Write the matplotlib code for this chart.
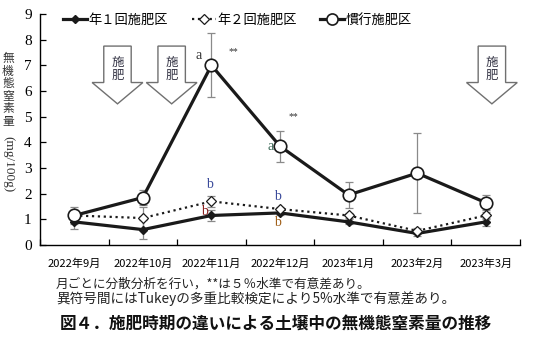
import numpy as np
import matplotlib
matplotlib.use('Agg')
import matplotlib.pyplot as plt
from matplotlib.patches import Polygon
from matplotlib.lines import Line2D

# データ
months = ['2022年9月', '2022年10月', '2022年11月', '2022年12月',
          '2023年1月', '2023年2月', '2023年3月']
once = [0.9, 0.6, 1.15, 1.25, 0.9, 0.45, 0.9]
once_err = [0.28, 0.38, 0.22, 0.1, 0.1, 0.1, 0.15]
twice = [1.15, 1.05, 1.7, 1.4, 1.15, 0.55, 1.15]
twice_err = [0.2, 0.42, 0.2, 0.1, 0.1, 0.1, 0.15]
conv = [1.15, 1.85, 7.0, 3.85, 1.95, 2.8, 1.65]
conv_err = [0.32, 0.3, 1.25, 0.6, 0.5, 1.55, 0.3]
series_names = ['年１回施肥区', '年２回施肥区', '慣行施肥区']
fert_x = [0.63, 1.42, 6.09]   # 施肥矢印の位置

JP = ['Noto Sans CJK JP', 'DejaVu Sans']
SERIF = ['Liberation Serif', 'DejaVu Serif']
plt.rcParams['font.family'] = JP

W, H = 534, 339
fig = plt.figure(figsize=(W / 100, H / 100), dpi=100)
ax = fig.add_axes([40 / W, 1 - 245 / H, 480 / W, 231 / H])

x = np.arange(len(months))
ebkw = dict(ecolor='#8a8a8a', elinewidth=0.9, capsize=3, capthick=0.9, ls='none', zorder=2)
ax.errorbar(x, conv, yerr=conv_err, **ebkw)
ax.errorbar(x, twice, yerr=twice_err, **ebkw)
ax.errorbar(x, once, yerr=once_err, **ebkw)

ax.plot(x, once, '-D', color='#1a1a1a', lw=2.3, ms=4.5, mfc='#1a1a1a', zorder=4)
ax.plot(x, twice, ':D', color='#1a1a1a', lw=1.6, ms=5.5, mfc='white', mew=0.9, zorder=4)
ax.plot(x, conv, '-o', color='#1a1a1a', lw=2.3, ms=9, mfc='white', mew=1.2, zorder=5)

# 有意差表示
ax.text(2 - 0.18, 7.4, 'a', ha='center', va='center', fontsize=10, family=SERIF, color='#333333')
ax.text(2 + 0.32, 7.55, '**', ha='center', va='center', fontsize=7, family=SERIF, color='#333333')
ax.text(3 - 0.13, 3.85, 'a', ha='center', va='center', fontsize=10, family=SERIF, color='#3c6a58')
ax.text(3 + 0.2, 5.0, '**', ha='center', va='center', fontsize=7, family=SERIF, color='#333333')
ax.text(2 - 0.03, 2.34, 'b', ha='center', va='center', fontsize=10, family=SERIF, color='#3a4a9a')
ax.text(2 - 0.1, 1.3, 'b', ha='center', va='center', fontsize=10, family=SERIF, color='#8b2020')
ax.text(3 - 0.03, 1.88, 'b', ha='center', va='center', fontsize=10, family=SERIF, color='#3a4a9a')
ax.text(3 - 0.03, 0.86, 'b', ha='center', va='center', fontsize=10, family=SERIF, color='#a0601a')

# 施肥矢印
for fx in fert_x:
    sw, hw = 0.2, 0.37
    top, sb, tip = 7.75, 6.33, 5.5
    pts = [(fx - sw, top), (fx + sw, top), (fx + sw, sb), (fx + hw, sb),
           (fx, tip), (fx - hw, sb), (fx - sw, sb)]
    ax.add_patch(Polygon(pts, closed=True, fc='white', ec='#707070', lw=1.0, zorder=3))
    for k, ch in enumerate('施肥'):
        ax.text(fx, 7.1 - 0.48 * k, ch, ha='center', va='center', fontsize=9,
                color='#333344', zorder=4)

ax.set_xlim(-0.5, 6.5)
ax.set_ylim(0, 9)
ax.set_yticks(range(10))
ax.set_yticklabels([str(v) for v in range(10)], family=SERIF, fontsize=11)
ax.set_xticks(x)
ax.set_xticklabels(months, fontsize=8)
ax.set_xticks(np.arange(-0.5, 7, 1), minor=True)
ax.tick_params(axis='x', which='major', length=0, pad=10)
ax.tick_params(axis='x', which='minor', direction='in', length=4, width=0.9)
ax.tick_params(axis='y', direction='in', length=4, width=0.9, pad=6)
for s in ['top', 'right']:
    ax.spines[s].set_visible(False)
for s in ['left', 'bottom']:
    ax.spines[s].set_linewidth(1.0)

# 凡例（項目ごとに配置）
handles = [
    Line2D([], [], ls='-', marker='D', color='#1a1a1a', lw=2.3, ms=4.5),
    Line2D([], [], ls=':', marker='D', color='#1a1a1a', lw=1.6, ms=5.5, mfc='white', mew=0.9),
    Line2D([], [], ls='-', marker='o', color='#1a1a1a', lw=2.3, ms=8, mfc='white', mew=1.2),
]
leg_x = [63, 192, 320]
for h, name, lx in zip(handles, series_names, leg_x):
    fig.legend([h], [name], loc='center left', bbox_to_anchor=(lx / W, 1 - 20 / H),
               frameon=False, fontsize=9.5, handlelength=1.8, handletextpad=0.15,
               borderaxespad=0, borderpad=0)

# 縦軸ラベル
for k, ch in enumerate('無機態窒素量'):
    fig.text(8 / W, 1 - (59 + 12.4 * k) / H, ch, ha='center', va='center',
             fontsize=8.5, color='#333333')
fig.text(8 / W, 1 - 164 / H, '(mg/100g)', ha='center', va='center', rotation=-90,
         fontsize=9.5, family=SERIF, color='#333333')

# 注記・表題
fig.text(56 / W, 1 - 284 / H, '月ごとに分散分析を行い，**は５％水準で有意差あり。',
         ha='left', va='center', fontsize=9.1, color='#222222')
fig.text(56 / W, 1 - 299 / H, '異符号間にはTukeyの多重比較検定により5%水準で有意差あり。',
         ha='left', va='center', fontsize=9.8, color='#222222')
fig.text(60 / W, 1 - 325 / H, '図４．施肥時期の違いによる土壌中の無機態窒素量の推移',
         ha='left', va='center', fontsize=12, fontweight='bold', color='#111111')

fig.savefig('out.png', dpi=100)
